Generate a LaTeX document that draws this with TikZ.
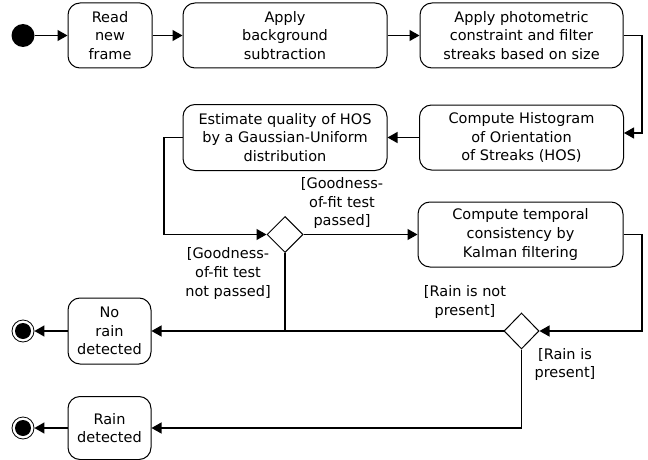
\documentclass[tikz,border=0pt]{standalone}
\usepackage{fontspec}
\setmainfont{DejaVu Sans}
\usetikzlibrary{shapes.geometric,arrows.meta}
\begin{document}
\begin{tikzpicture}[x=1pt,y=-1pt,
  font=\fontsize{14.5pt}{18.8pt}\selectfont,
  act/.style={draw, rounded corners=12pt, line width=1pt, align=center, inner sep=0pt},
  dec/.style={draw, diamond, line width=1pt, inner sep=0pt, minimum width=36pt, minimum height=36pt},
  lbl/.style={align=center, inner sep=0pt},
  conn/.style={line width=1.2pt},
  arr/.style={conn, -{Triangle[length=10pt,width=11pt]}},
  startdot/.style={circle, fill=black, minimum size=23pt, inner sep=0pt},
  enddot/.style={circle, draw, line width=0.8pt, minimum size=22pt, inner sep=0pt}]
\useasboundingbox (0,0) rectangle (648,460);
\fill[white] (0,0) rectangle (648,460);

\node[startdot] (start) at (23,35.5) {};
\node[act, minimum width=84pt, minimum height=65pt] (read) at (110,35.5) {Read\\new\\frame};
\node[act, minimum width=204pt, minimum height=65pt] (bg) at (285,35.5) {Apply\\background\\subtraction};
\node[act, minimum width=203pt, minimum height=65pt] (photo) at (521.5,35.5) {Apply photometric\\constraint and filter\\streaks based on size};
\node[act, minimum width=204pt, minimum height=65pt] (hist) at (521.5,137.5) {Compute Histogram\\of Orientation\\of Streaks (HOS)};
\node[act, minimum width=204pt, minimum height=66pt] (est) at (285,137.5) {Estimate quality of HOS\\by a Gaussian-Uniform\\distribution};
\node[dec] (d1) at (285,234.5) {};
\node[act, minimum width=205pt, minimum height=65pt] (temp) at (520.5,234.5) {Compute temporal\\consistency by\\Kalman filtering};
\node[dec, minimum width=35pt] (d2) at (521.5,331) {};
\node[act, minimum width=83pt, minimum height=66pt] (norain) at (109.5,331) {No\\rain\\detected};
\node[act, minimum width=83pt, minimum height=63pt] (rain) at (109.5,428) {Rain\\detected};
\node[enddot] (end1) at (23,331) {};
\fill (end1.center) circle (8pt);
\node[enddot] (end2) at (23,428) {};
\fill (end2.center) circle (8pt);

\node[lbl] (g1) at (342,203) {[Goodness-\\of-fit test\\passed]};
\node[lbl] (g2) at (228,273.5) {[Goodness-\\of-fit test\\not passed]};
\node[lbl] (r1) at (465,302) {[Rain is not\\present]};
\node[lbl] (r2) at (565,364.5) {[Rain is\\present]};

\coordinate (c1) at (642,133);
\coordinate (c2) at (164,234.5);
\coordinate (c3) at (642,331);

\draw[arr] (start) -- (read);
\draw[arr] (read) -- (bg);
\draw[arr] (bg) -- (photo);
\draw[arr] (photo.east) -| (c1) -- (c1 -| hist.east);
\draw[arr] (hist) -- (est);
\draw[arr] (est.west) -| (c2) -- (d1.west);
\draw[arr] (d1.east) -- (temp.west);
\draw[arr] (temp.east) -| (c3) -- (d2.east);
\draw[arr] (d2.west) -- (norain.east);
\draw[conn] (d1.south) -- (d1.south |- norain.east);
\draw[arr] (d2.south) |- (rain.east);
\draw[arr] (norain.west) -- (end1.east);
\draw[arr] (rain.west) -- (end2.east);
\end{tikzpicture}
\end{document}
